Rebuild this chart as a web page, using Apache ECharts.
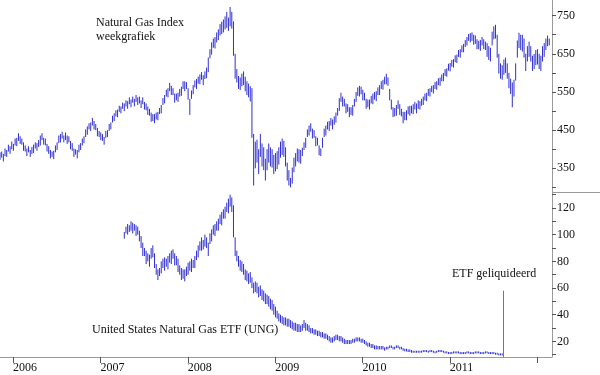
<!DOCTYPE html>
<html>
<head>
<meta charset="utf-8">
<script src="https://cdn.jsdelivr.net/npm/echarts@6/dist/echarts.min.js"></script>
<style>
html,body{margin:0;padding:0;background:#fff}
#chart{width:600px;height:375px}
</style>
</head>
<body>
<div id="chart"></div>
<script>
// weekbars, eerste week op 2005.85 (jaar als decimaal)
var firstWeek = 2005.85;

// Natural Gas Index, per week [laag, hoog]
var gasBars = [
  [372,392],[378,394],[368,388],[382,402],[380,398],[394,412],[388,408],[400,420],[396,414],[410,428],
  [408,430],[422,442],[414,434],[412,428],[396,418],[394,410],[382,402],[392,408],[380,398],[388,406],
  [390,412],[402,418],[396,416],[406,424],[410,436],[424,442],[412,430],[410,428],[394,414],[388,408],
  [376,398],[380,394],[374,396],[392,410],[398,418],[416,436],[418,440],[428,446],[418,436],[424,444],
  [414,436],[418,434],[400,422],[396,416],[380,402],[386,400],[376,398],[392,412],[398,416],[410,428],
  [416,434],[432,452],[438,460],[452,468],[448,470],[462,482],[452,474],[450,466],[434,456],[432,448],
  [424,444],[422,440],[412,432],[430,448],[432,450],[448,466],[452,470],[470,488],[474,494],[486,502],
  [484,504],[498,514],[494,512],[506,522],[500,520],[512,528],[506,526],[518,536],[510,530],[522,538],
  [512,532],[524,542],[516,536],[520,538],[508,528],[518,536],[504,524],[502,520],[490,512],[488,506],
  [472,496],[474,492],[468,492],[478,496],[476,498],[492,508],[494,516],[516,534],[520,542],[538,556],
  [536,560],[552,574],[542,566],[542,560],[522,546],[528,546],[524,548],[538,558],[540,564],[558,578],
  [552,578],[558,576],[530,560],[490,532],[532,554],[544,568],[562,580],[558,584],[572,590],[570,596],
  [582,602],[568,594],[584,604],[586,614],[602,640],[638,662],[648,680],[666,690],[664,694],[680,706],
  [686,714],[698,728],[702,734],[706,740],[714,748],[718,760],[710,745],[722,773],[716,760],[645,735],
  [585,650],[575,610],[558,592],[555,588],[565,598],[568,604],[552,590],[542,578],[536,572],[525,565],
  [430,560],[305,440],[350,420],[365,425],[335,400],[380,440],[355,415],[345,405],[318,375],[345,400],
  [365,415],[355,405],[352,400],[335,385],[342,390],[348,395],[360,405],[378,420],[385,428],[380,422],
  [355,405],[318,365],[305,345],[300,325],[310,352],[340,378],[355,390],[368,402],[365,400],[362,398],
  [382,404],[398,418],[404,430],[432,452],[436,462],[446,468],[428,454],[430,450],[408,434],[410,430],
  [384,410],[382,402],[404,430],[432,454],[436,462],[452,472],[448,474],[462,482],[452,478],[464,486],
  [470,496],[488,508],[500,534],[524,548],[512,538],[512,532],[494,520],[498,518],[484,510],[490,510],
  [488,516],[512,532],[524,550],[540,562],[538,566],[544,564],[528,556],[528,548],[506,532],[510,530],
  [504,530],[520,540],[518,546],[530,550],[526,552],[542,562],[542,568],[558,578],[556,582],[570,590],
  [570,598],[566,588],[528,558],[504,530],[484,510],[486,508],[488,516],[506,528],[490,518],[486,506],
  [468,498],[476,498],[476,502],[492,512],[488,514],[494,514],[492,518],[504,524],[494,520],[506,528],
  [504,526],[514,532],[516,538],[528,546],[526,548],[540,558],[538,560],[550,566],[546,568],[558,576],
  [556,578],[568,586],[566,588],[578,596],[578,600],[592,610],[590,612],[606,624],[604,626],[616,634],
  [614,636],[628,646],[626,648],[642,660],[640,662],[654,672],[654,676],[668,686],[672,694],[684,702],
  [680,704],[684,706],[674,700],[676,698],[662,688],[662,684],[658,686],[672,694],[662,688],[660,682],
  [642,678],[634,670],[630,666],[672,708],[688,722],[690,726],[640,700],[598,650],[585,625],[582,620],
  [595,635],[600,640],[585,625],[560,600],[545,585],[510,575],[538,582],[580,625],[640,685],[665,705],
  [660,700],[656,700],[640,690],[605,650],[630,670],[642,682],[630,670],[605,645],[610,650],[620,660],
  [622,662],[610,650],[605,645],[630,670],[642,678],[660,690],[670,698],[672,690]
];

// United States Natural Gas ETF (UNG), per week [laag, hoog], start bij week 74
var ungStart = 74;
var ungBars = [
  [97,102],[101,106],[100,108],[102,107],[103,110],[101,109],[103,108],[99,107],[100,106],[95,103],
  [90,99],[84,94],[84,90],[78,88],[80,86],[76,85],[82,90],[83,92],[75,86],[70,78],
  [66,74],[69,75],[71,80],[75,82],[73,83],[76,82],[74,84],[79,86],[78,88],[82,89],
  [77,86],[77,84],[72,82],[70,77],[66,75],[67,74],[65,74],[69,76],[70,79],[73,80],
  [72,82],[75,81],[75,84],[81,88],[83,92],[88,95],[88,98],[89,96],[91,100],[90,98],
  [84,94],[93,101],[95,104],[100,107],[99,108],[103,110],[103,112],[108,115],[107,117],[112,119],
  [112,121],[117,124],[116,127],[121,130],[117,128],[98,122],[84,98],[80,88],[76,84],[73,81],
  [72,80],[70,78],[66,74],[65,73],[63,71],[64,72],[60,68],[56,64],[57,65],[56,64],
  [53,61],[54,62],[51,59],[50,58],[48,56],[48,55],[46,54],[44,52],[43,51],[40,48],
  [38,46],[37,43],[35,41],[34,40],[33,39],[32,38],[32,38],[31,37],[31,37],[30,36],
  [29,35],[28,34],[28,34],[27,33],[27,33],[27,32],[28,33],[30,36],[28,34],[28,33],
  [27,32],[26,30],[26,30],[25,29],[25,29],[24,28],[24,28],[23,27],[23,27],[22,26],
  [22,26],[21,25],[20,24],[19,23],[19,23],[20,24],[21,25],[21,25],[20,24],[20,24],
  [19,23],[18,22],[18,21],[18,21],[18,21],[18,21],[19,22],[19,22],[20,23],[20,23],
  [20,23],[19,22],[19,22],[18,21],[17,20],[16,19],[16,19],[15,18],[15,18],[14,17],
  [14,17],[14,16.5],[14,16.5],[14,16.5],[14,16.5],[13,15.5],[14,16],[14,16],[15,17],[15,17],
  [14,16],[14,16],[15,17],[15,17],[14,16],[14,16],[13,15],[12.5,14.5],[12.5,14.5],[12,14],
  [12,14],[11.5,13.5],[11.5,13],[11.5,13],[11.5,13],[11.5,13],[11.5,13],[11.5,13],[12,13.5],[12,13.5],
  [12,13.5],[11.5,13],[12,13.5],[12,13.5],[11.5,13],[11,12.5],[11.5,13],[12,13.5],[12,13.5],[12,13.5],
  [11.5,13],[11,12.5],[11,12.5],[10.5,12],[10.5,12],[10.5,12],[11,12.5],[11,12.5],[11,12.5],[11,12.5],
  [10.5,12],[10.5,12],[10.5,12],[10.5,12],[11,12.5],[11,12.5],[10.5,12],[10.5,12],[10.5,12],[11,12.5],
  [11,12.5],[11,12.5],[10.5,12],[10.5,12],[10.5,12],[11,12.5],[11,12.5],[10.5,12],[10.5,12],[10.5,12],
  [10.5,12],[10,11.5],[10,11.5],[9.5,11],[9.5,11],[9.5,11]
];

var yearTicks = [2006, 2007, 2008, 2009, 2010, 2011, 2012];
var yearLabels = [2006, 2007, 2008, 2009, 2010, 2011];
var gasLabels = [350, 450, 550, 650, 750];
var gasTicks = [300, 350, 400, 450, 500, 550, 600, 650, 700, 750];
var ungLabels = [20, 40, 60, 80, 100, 120];
var ungTicks = [10, 20, 30, 40, 50, 60, 70, 80, 90, 100, 110, 120, 130];
var etfTop = 58; // hoogte van de 'geliquideerd' lijn

var serif = 'Liberation Serif';
var axisGrey = '#9a9a9a';
var barBlue = '#2f2fd2';

function weekX(i) { return firstWeek + i / 52; }

var gasData = gasBars.map(function (b, i) { return [weekX(i), b[0], b[1]]; });
var ungData = ungBars.map(function (b, i) { return [weekX(ungStart + i), b[0], b[1]]; });
var lastUng = ungData[ungData.length - 1][0] + 0.01;

function renderBar(params, api) {
  var lo = api.coord([api.value(0), api.value(1)]);
  var hi = api.coord([api.value(0), api.value(2)]);
  return {
    type: 'line',
    shape: { x1: lo[0], y1: lo[1], x2: hi[0], y2: hi[1] },
    style: { stroke: barBlue, lineWidth: 1 }
  };
}

var chart = echarts.init(document.getElementById('chart'));
var labelFont = { fontFamily: serif, fontSize: 12, color: '#111' };

function yAxisFor(grid, min, max, labels, ticks) {
  return {
    type: 'value', gridIndex: grid, position: 'right', min: min, max: max,
    axisLine: { show: true, lineStyle: { color: axisGrey, width: 1 } },
    axisTick: { show: true, length: 4, customValues: ticks, lineStyle: { color: '#555' } },
    axisLabel: Object.assign({ margin: 5, customValues: labels }, labelFont),
    splitLine: { show: false }
  };
}

var option = {
  animation: false,
  backgroundColor: '#fff',
  title: [
    { text: 'Natural Gas Index\nweekgrafiek', left: 96, top: 16, padding: 0,
      textStyle: { fontFamily: serif, fontSize: 12, fontWeight: 'normal', color: '#111', lineHeight: 14 } },
    { text: 'United States Natural Gas ETF (UNG)', left: 92, top: 324, padding: 0,
      textStyle: { fontFamily: serif, fontSize: 12, fontWeight: 'normal', color: '#111' } },
    { text: 'ETF geliquideerd', left: 452, top: 268, padding: 0,
      textStyle: { fontFamily: serif, fontSize: 12, fontWeight: 'normal', color: '#111' } }
  ],
  grid: [
    { left: 0, right: 48, top: 0, height: 192 },
    { left: 0, right: 48, top: 192, bottom: 18 }
  ],
  xAxis: [
    { type: 'value', gridIndex: 0, min: 2005.85, max: 2012.17, show: false },
    { type: 'value', gridIndex: 1, min: 2005.85, max: 2012.17,
      axisLine: { show: true, lineStyle: { color: axisGrey, width: 1 } },
      axisTick: { show: true, length: 6, customValues: yearTicks, lineStyle: { color: '#555' } },
      axisLabel: Object.assign({ margin: 5, align: 'left', customValues: yearLabels,
        formatter: function (v) { return String(v); } }, labelFont),
      splitLine: { show: false } }
  ],
  yAxis: [
    yAxisFor(0, 288, 791, gasLabels, gasTicks),
    yAxisFor(1, 8.3, 132, ungLabels, ungTicks)
  ],
  graphic: [
    { type: 'line', shape: { x1: 552, y1: 192.5, x2: 600, y2: 192.5 },
      style: { stroke: axisGrey, lineWidth: 1 } }
  ],
  series: [
    { type: 'custom', xAxisIndex: 0, yAxisIndex: 0, renderItem: renderBar,
      encode: { x: 0, y: [1, 2] }, data: gasData },
    { type: 'custom', xAxisIndex: 1, yAxisIndex: 1, renderItem: renderBar,
      encode: { x: 0, y: [1, 2] }, data: ungData,
      markLine: {
        silent: true, symbol: 'none', label: { show: false },
        lineStyle: { color: '#777', width: 1, type: 'solid' },
        data: [[{ coord: [lastUng, 8.3] }, { coord: [lastUng, etfTop] }]]
      } }
  ]
};
chart.setOption(option);
</script>
</body>
</html>
